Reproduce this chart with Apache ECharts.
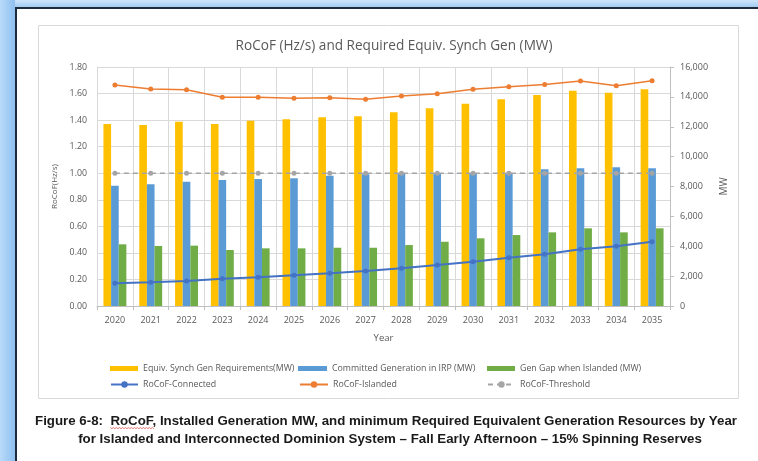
<!DOCTYPE html>
<html>
<head>
<meta charset="utf-8">
<script src="https://cdn.jsdelivr.net/npm/echarts@6/dist/echarts.min.js"></script>
<style>
  html, body { margin: 0; padding: 0; background: #ffffff; }
  #chart { width: 758px; height: 461px; }
</style>
</head>
<body>
<div id="chart"></div>
<script>
// Study years
const years = ['2020', '2021', '2022', '2023', '2024', '2025', '2026', '2027',
               '2028', '2029', '2030', '2031', '2032', '2033', '2034', '2035'];

// MW series (right axis)
const equivSynchGen = [12180, 12120, 12340, 12180, 12400, 12500, 12630, 12700,
                       12970, 13240, 13540, 13840, 14130, 14410, 14280, 14510];
const committedGen  = [8050, 8150, 8320, 8440, 8500, 8550, 8720, 8820,
                       8860, 8880, 8890, 8900, 9150, 9220, 9290, 9220];
const genGap        = [4130, 4020, 4040, 3750, 3860, 3860, 3900, 3900,
                       4080, 4300, 4530, 4750, 4930, 5200, 4930, 5200];

// RoCoF series in Hz/s (left axis)
const rocofConnected = [0.171, 0.178, 0.188, 0.206, 0.216, 0.231, 0.246, 0.264,
                        0.284, 0.309, 0.334, 0.364, 0.390, 0.427, 0.450, 0.484];
const rocofIslanded  = [1.664, 1.634, 1.629, 1.572, 1.572, 1.564, 1.569, 1.557,
                        1.582, 1.599, 1.632, 1.652, 1.668, 1.695, 1.659, 1.697];
const rocofThreshold = [1.0, 1.0, 1.0, 1.0, 1.0, 1.0, 1.0, 1.0,
                        1.0, 1.0, 1.0, 1.0, 1.0, 1.0, 1.0, 1.0];

const chartTitle = 'RoCoF (Hz/s) and Required Equiv. Synch Gen (MW)';
const captionPrefix = 'Figure 6-8:  ';
const captionWord = 'RoCoF';
const captionLine1 = captionPrefix + captionWord +
  ', Installed Generation MW, and minimum Required Equivalent Generation Resources by Year';
const captionLine2 = 'for Islanded and Interconnected Dominion System \u2013 Fall Early Afternoon \u2013 15% Spinning Reserves';

const FONT = '"Open Sans", "Liberation Sans", sans-serif';
const CAP_FONT = 'bold 13.3px "Liberation Sans", sans-serif';
const TXT = '#595959';
const GRIDC = '#d9d9d9';

const chart = echarts.init(document.getElementById('chart'), null, { renderer: 'canvas' });

function legendItem(name, left, top, w, h, icon) {
  const item = icon ? { name: name, icon: icon } : name;
  return {
    data: [item], left: left, top: top, itemWidth: w, itemHeight: h,
    itemGap: 4, padding: 0, selectedMode: false,
    textStyle: { fontFamily: FONT, fontSize: 8.8, color: TXT }
  };
}

// caption geometry: locate the spell-checked word so the squiggle sits under it
const CAP1_X = 386, CAP1_Y = 421, CAP2_X = 390, CAP2_Y = 439;
const measureCtx = document.createElement('canvas').getContext('2d');
measureCtx.font = CAP_FONT;
const cap1Width = measureCtx.measureText(captionLine1).width;
const wordStart = CAP1_X - cap1Width / 2 + measureCtx.measureText(captionPrefix).width;
const wordEnd = wordStart + measureCtx.measureText(captionWord).width;

function squiggle(x0, x1, y) {
  const pts = [];
  for (let x = x0, i = 0; x <= x1; x += 1.5, i++) pts.push([x, y + (i % 2 ? 1.2 : 0)]);
  return pts;
}

const option = {
  animation: false,
  backgroundColor: '#ffffff',
  textStyle: { fontFamily: FONT },
  title: {
    text: chartTitle, left: 389, top: 34, textAlign: 'center',
    textStyle: { fontFamily: FONT, fontSize: 13.6, fontWeight: 'normal', color: TXT }
  },
  legend: [
    legendItem('Equiv. Synch Gen Requirements(MW)', 110, 364, 28, 5, 'rect'),
    legendItem('Committed Generation in IRP (MW)', 298, 364, 29, 5, 'rect'),
    legendItem('Gen Gap when Islanded (MW)', 487, 364, 28, 5, 'rect'),
    legendItem('RoCoF-Connected', 110, 380, 27, 8),
    legendItem('RoCoF-Islanded', 299, 380, 28, 8),
    legendItem('RoCoF-Threshold', 487, 380, 27, 8)
  ],
  grid: { left: 97, right: 88, top: 67, bottom: 155, containLabel: false },
  xAxis: {
    type: 'category', data: years,
    name: 'Year', nameLocation: 'middle', nameGap: 27,
    nameTextStyle: { fontFamily: FONT, fontSize: 9.5, color: TXT },
    axisLine: { lineStyle: { color: '#bfbfbf' } },
    axisTick: { show: true, length: 4, lineStyle: { color: '#bfbfbf' } },
    axisLabel: { fontFamily: FONT, fontSize: 9, color: TXT, margin: 10 },
    splitLine: { show: true, lineStyle: { color: GRIDC, width: 1 } }
  },
  yAxis: [
    {
      type: 'value', min: 0, max: 1.8, interval: 0.2,
      name: 'RoCoF(Hz/s)', nameLocation: 'middle', nameGap: 30, nameRotate: 90,
      nameTextStyle: { fontFamily: FONT, fontSize: 8, color: TXT },
      axisLine: { show: true, lineStyle: { color: GRIDC } },
      axisTick: { show: false },
      axisLabel: { fontFamily: FONT, fontSize: 8.8, color: TXT, margin: 10,
                   formatter: v => v.toFixed(2) },
      splitLine: { show: true, lineStyle: { color: GRIDC, width: 1 } }
    },
    {
      type: 'value', min: 0, max: 16000, interval: 2000, position: 'right',
      name: 'MW', nameLocation: 'middle', nameGap: 42, nameRotate: 90,
      nameTextStyle: { fontFamily: FONT, fontSize: 10, color: TXT },
      axisLine: { show: true, lineStyle: { color: '#bfbfbf' } },
      axisTick: { show: true, length: 4, lineStyle: { color: '#bfbfbf' } },
      axisLabel: { fontFamily: FONT, fontSize: 9, color: TXT, margin: 10,
                   formatter: v => v.toLocaleString('en-US') },
      splitLine: { show: false }
    }
  ],
  series: [
    { name: 'Equiv. Synch Gen Requirements(MW)', type: 'bar', yAxisIndex: 1,
      data: equivSynchGen, itemStyle: { color: '#FFC000' },
      barGap: '0%', barCategoryGap: '36%' },
    { name: 'Committed Generation in IRP (MW)', type: 'bar', yAxisIndex: 1,
      data: committedGen, itemStyle: { color: '#5B9BD5' } },
    { name: 'Gen Gap when Islanded (MW)', type: 'bar', yAxisIndex: 1,
      data: genGap, itemStyle: { color: '#70AD47' } },
    { name: 'RoCoF-Connected', type: 'line', yAxisIndex: 0, z: 5,
      data: rocofConnected, symbol: 'circle', symbolSize: 5,
      lineStyle: { color: '#4472C4', width: 2 },
      itemStyle: { color: '#4472C4' } },
    { name: 'RoCoF-Islanded', type: 'line', yAxisIndex: 0, z: 5,
      data: rocofIslanded, symbol: 'circle', symbolSize: 5,
      lineStyle: { color: '#ED7D31', width: 1.5 },
      itemStyle: { color: '#ED7D31' } },
    { name: 'RoCoF-Threshold', type: 'line', yAxisIndex: 0, z: 4,
      data: rocofThreshold, symbol: 'circle', symbolSize: 5,
      lineStyle: { color: '#a5a5a5', width: 1.5, type: [5, 4] },
      itemStyle: { color: '#a5a5a5' } }
  ],
  graphic: [
    // document window frame
    { type: 'rect', silent: true, z: -10,
      shape: { x: 0, y: 0, width: 758, height: 8 },
      style: { fill: new echarts.graphic.LinearGradient(0, 0, 0, 1,
        [{ offset: 0, color: '#cfe5fb' }, { offset: 1, color: '#9cc8f2' }]) } },
    { type: 'rect', silent: true, z: -10,
      shape: { x: 0, y: 0, width: 15, height: 461 },
      style: { fill: new echarts.graphic.LinearGradient(0, 0, 1, 0,
        [{ offset: 0, color: '#b9dafa' }, { offset: 1, color: '#8fc0ef' }]) } },
    { type: 'rect', silent: true, z: -9,
      shape: { x: 15, y: 7, width: 743, height: 2 },
      style: { fill: '#1e2b3c' } },
    { type: 'rect', silent: true, z: -9,
      shape: { x: 15, y: 7, width: 2, height: 454 },
      style: { fill: '#1e2b3c' } },
    // chart area border
    { type: 'rect', silent: true, z: -8,
      shape: { x: 38.5, y: 25.5, width: 700, height: 373 },
      style: { fill: 'none', stroke: '#d9d9d9', lineWidth: 1 } },
    // caption below the chart
    { type: 'text', silent: true, x: CAP1_X, y: CAP1_Y,
      style: { text: captionLine1, align: 'center', verticalAlign: 'middle', fill: '#1a1a1a',
               font: CAP_FONT } },
    { type: 'text', silent: true, x: CAP2_X, y: CAP2_Y,
      style: { text: captionLine2, align: 'center', verticalAlign: 'middle', fill: '#1a1a1a',
               font: CAP_FONT } },
    { type: 'polyline', silent: true,
      shape: { points: squiggle(wordStart, wordEnd, CAP1_Y + 6.5) },
      style: { stroke: '#e05050', lineWidth: 0.8, fill: 'none' } }
  ]
};

chart.setOption(option);
</script>
</body>
</html>
